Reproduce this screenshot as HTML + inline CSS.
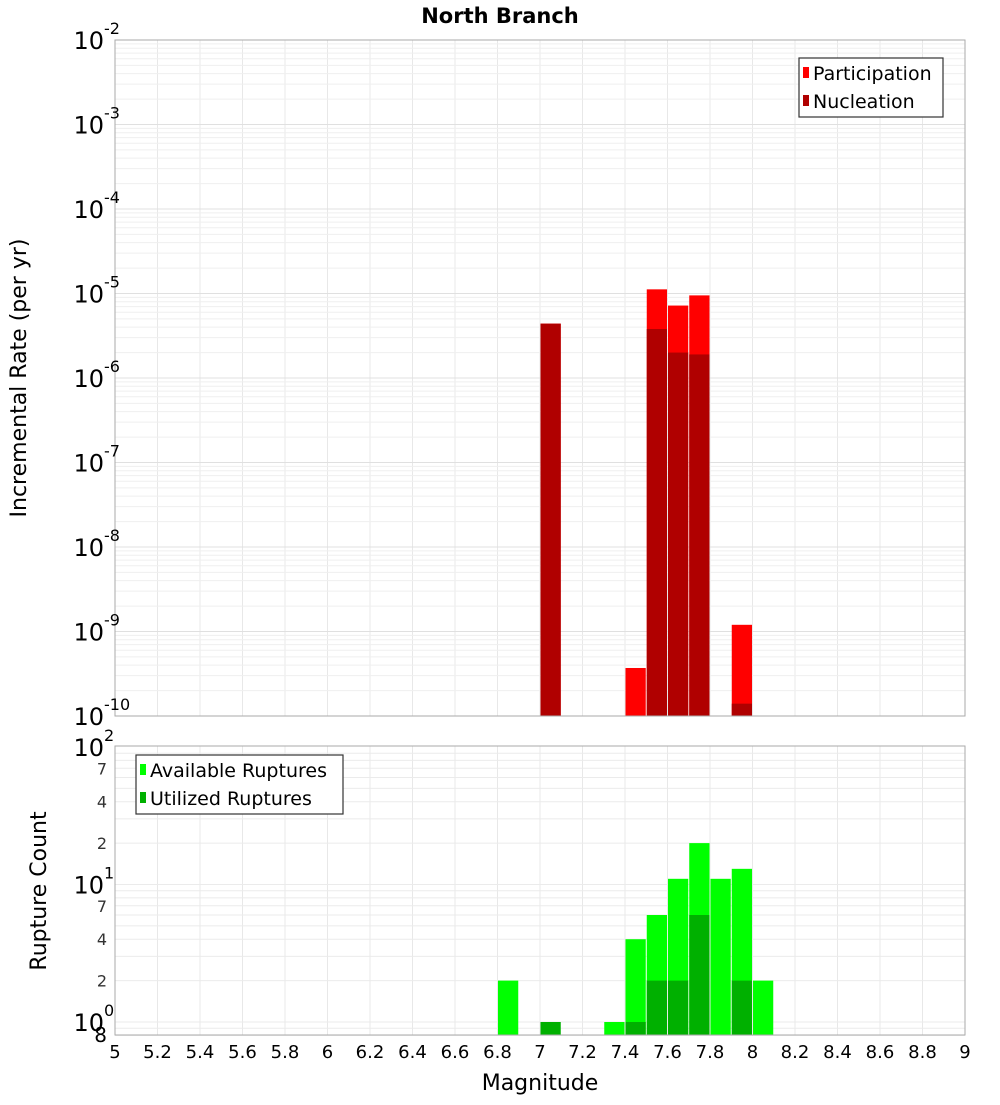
<!DOCTYPE html>
<html><head><meta charset="utf-8"><style>
body{margin:0;background:#fff;}
svg text{font-family:"DejaVu Sans","Liberation Sans",sans-serif;}
</style></head><body>
<svg id="c" width="1000" height="1100" xmlns="http://www.w3.org/2000/svg">
<text x="500" y="23" text-anchor="middle" font-size="21" font-weight="bold">North Branch</text>
<g id="topPlot"></g>
<g id="botPlot"></g>
<text transform="translate(26,378) rotate(-90)" text-anchor="middle" font-size="22">Incremental Rate (per yr)</text>
<text transform="translate(46,891) rotate(-90)" text-anchor="middle" font-size="22">Rupture Count</text>
<text x="540" y="1090" text-anchor="middle" font-size="22">Magnitude</text>
<g>
<rect x="799" y="58" width="144" height="59" fill="#fff" stroke="#333" stroke-width="1.2"/>
<rect x="803" y="67" width="6" height="11" fill="#ff0000"/>
<text x="813" y="80" font-size="19">Participation</text>
<rect x="803" y="95" width="6" height="11" fill="#b00000"/>
<text x="813" y="108" font-size="19">Nucleation</text>
</g>
<g>
<rect x="136" y="755" width="207" height="59" fill="#fff" stroke="#333" stroke-width="1.2"/>
<rect x="140" y="764" width="6" height="11" fill="#00ff00"/>
<text x="150" y="777" font-size="19">Available Ruptures</text>
<rect x="140" y="792" width="6" height="11" fill="#00b000"/>
<text x="150" y="805" font-size="19">Utilized Ruptures</text>
</g>
</svg>
<script>
const topMags=[7.05,7.45,7.55,7.65,7.75,7.95];
const participation=[4.4e-6,3.7e-10,1.12e-5,7.2e-6,9.5e-6,1.2e-9];
const nucleationMags=[7.05,7.55,7.65,7.75,7.95];
const nucleation=[4.4e-6,3.8e-6,2.0e-6,1.9e-6,1.4e-10];
const availMags=[6.85,7.35,7.45,7.55,7.65,7.75,7.85,7.95,8.05];
const available=[2,1,4,6,11,20,11,13,2];
const usedMags=[7.05,7.45,7.55,7.65,7.75,7.95];
const utilized=[1,1,2,2,6,2];
const xTicks=[5,5.2,5.4,5.6,5.8,6,6.2,6.4,6.6,6.8,7,7.2,7.4,7.6,7.8,8,8.2,8.4,8.6,8.8,9];
const topDecades=[-2,-3,-4,-5,-6,-7,-8,-9,-10];
const botMinorLabels=[2,4,7,20,40,70];

const NS="http://www.w3.org/2000/svg";
const X0=115,X1=965;
const x=m=>X0+(m-5)*(X1-X0)/4;
const yT=v=>40+(-2-Math.log10(v))*84.5;
const yB=v=>1022-Math.log10(v)*137.5;
function el(p,t,a){const e=document.createElementNS(NS,t);for(const k in a)e.setAttribute(k,a[k]);p.appendChild(e);return e;}
const gTop=document.getElementById('topPlot'),gBot=document.getElementById('botPlot');
el(gTop,'rect',{x:X0,y:40,width:850,height:676,fill:'#fff',stroke:'none'});
el(gBot,'rect',{x:X0,y:746,width:850,height:289,fill:'#fff',stroke:'none'});
for(const t of xTicks){for(const [g,y0,y1] of [[gTop,40,716],[gBot,746,1035]]){
 const l=el(g,'line',{x1:x(t),x2:x(t),y1:y0,y2:y1,stroke:'#e8e8e8'});
 
 }}
for(let d=-10;d<-2;d++)for(let k=1;k<10;k++){const y=yT(k*Math.pow(10,d));
 const l=el(gTop,'line',{x1:X0,x2:X1,y1:y,y2:y,stroke:k==1?'#e0e0e0':'#efefef'});
 
 }
for(let d=-1;d<2;d++)for(let k=1;k<10;k++){const v=k*Math.pow(10,d);if(v<0.8)continue;const y=yB(v);
 const l=el(gBot,'line',{x1:X0,x2:X1,y1:y,y2:y,stroke:'#ebebeb'});
 
 }
const bw=(X1-X0)/40;
function bars(g,mags,vals,yf,base,col,name){mags.forEach((m,i)=>{const yy=yf(vals[i]);
 const r=el(g,'rect',{x:x(m)-bw/2+0.5,y:yy,width:bw-1,height:base-yy,fill:col});
 
 });}
bars(gTop,topMags,participation,yT,716,'#ff0000','participation-bar');
bars(gTop,nucleationMags,nucleation,yT,716,'#b00000','nucleation-bar');
bars(gBot,availMags,available,yB,1035,'#00ff00','available-bar');
bars(gBot,usedMags,utilized,yB,1035,'#00b000','utilized-bar');
el(gTop,'rect',{x:X0,y:40,width:850,height:676,fill:'none',stroke:'#aaa'});
el(gBot,'rect',{x:X0,y:746,width:850,height:289,fill:'none',stroke:'#aaa'});
function pow(g,yy,exp,name){const t=el(g,'text',{x:104,y:yy+9,'text-anchor':'end','font-size':24});
 t.textContent='10';
 
 
 const s=el(g,'text',{x:104,y:yy-6,'font-size':16});s.textContent=exp;
 
 }
topDecades.forEach(d=>pow(gTop,yT(Math.pow(10,d)),String(d),'y-tick-top'));
[0,1,2].forEach(d=>pow(gBot,yB(Math.pow(10,d)),String(d),'y-tick-bottom'));
botMinorLabels.forEach(v=>{const t=el(gBot,'text',{x:107,y:yB(v)+6,'text-anchor':'end','font-size':16,fill:'#333'});
 t.textContent=String(v).charAt(0);
 
 });
{const t=el(gBot,'text',{x:107,y:1042,'text-anchor':'end','font-size':20});t.textContent='8';
 
 }
xTicks.forEach(v=>{const t=el(gBot,'text',{x:x(v),y:1058,'text-anchor':'middle','font-size':18});
 t.textContent=String(v);
 
 });
</script>
</body></html>
